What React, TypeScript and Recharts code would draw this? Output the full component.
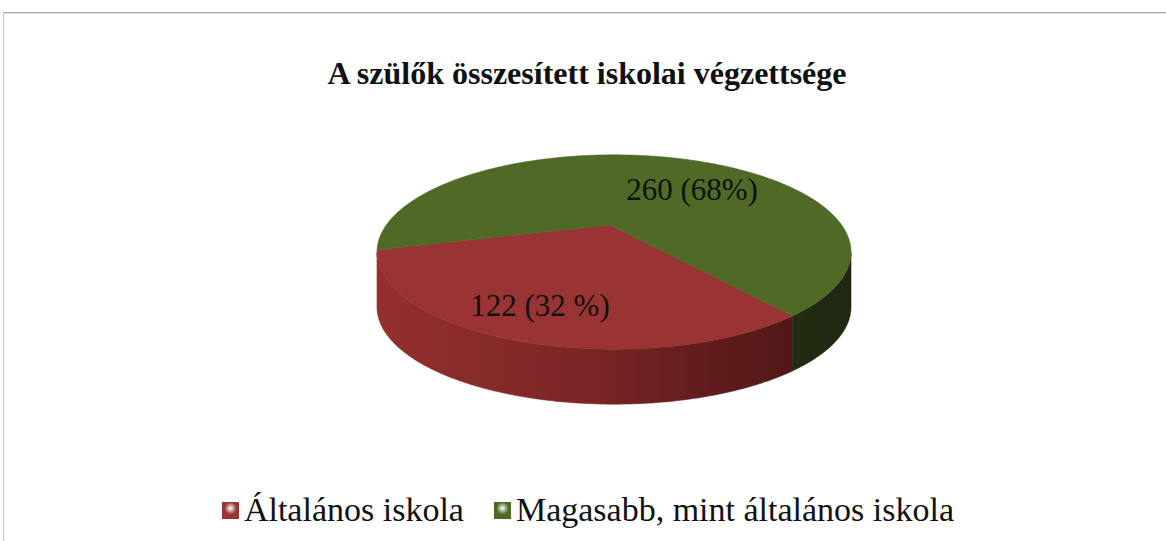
import React from "react";
import { PieChart, Pie, Cell, Legend } from "recharts";

const categories = ["Általános iskola", "Magasabb, mint általános iskola"];
const counts = [122, 260];
const sliceLabels = ["122 (32 %)", "260 (68%)"];
const colors = ["#9a3434", "#4f6a27"];

const data = categories.map((name, i) => ({ name, value: counts[i] }));

const W = 1166;
const H = 541;
const SERIF = '"Liberation Serif", "Times New Roman", serif';

// fake 3d look: apex of the slices sits a bit above the ellipse centre
const APEX_X = 610;
const APEX_Y = 225;
const RX = 237;
const TILT = 0.41;
const DEPTH = 55;
const CENTER_DX = 4;
const CENTER_DY = 27;

const sideStops: Record<string, string[]> = {
  "#9a3434": ["#942f2f", "#7a2525", "#5c1b1b", "#461414"],
  "#4f6a27": ["#3c4f1d", "#323f18", "#273214", "#1e2710"],
};

// where the ray from the apex at a given angle hits the top ellipse
function rimPoint(cx: number, cy: number, r: number, deg: number) {
  const ry = r * TILT;
  const ex = cx + CENTER_DX;
  const ey = cy + CENTER_DY;
  const a = (cx - ex) / r;
  const b = (cy - ey) / ry;
  const rad = (deg * Math.PI) / 180;
  const c = Math.cos(rad);
  const s = -Math.sin(rad);
  const p = a * c + b * s;
  const q = a * a + b * b - 1;
  const t = -p + Math.sqrt(p * p - q);
  const u = a + t * c;
  const v = b + t * s;
  return { x: ex + u * r, y: ey + v * ry, front: v >= 0 };
}

function Slice3D(props: any) {
  const { cx, cy, outerRadius, startAngle, endAngle, fill } = props;
  const steps = Math.max(2, Math.ceil(Math.abs(endAngle - startAngle) * 2));
  const pts = [];
  for (let i = 0; i <= steps; i++) {
    pts.push(rimPoint(cx, cy, outerRadius, startAngle + ((endAngle - startAngle) * i) / steps));
  }
  const top = `M${cx},${cy} ` + pts.map((p) => `L${p.x.toFixed(2)},${p.y.toFixed(2)}`).join(" ") + " Z";

  const runs: { x: number; y: number }[][] = [];
  let cur: { x: number; y: number }[] = [];
  pts.forEach((p) => {
    if (p.front) cur.push(p);
    else if (cur.length) {
      runs.push(cur);
      cur = [];
    }
  });
  if (cur.length) runs.push(cur);

  const id = fill.replace("#", "");
  const stops = sideStops[fill] || [fill, fill, fill, fill];
  const ex = cx + CENTER_DX;

  return (
    <g>
      <defs>
        <linearGradient id={`side-${id}`} gradientUnits="userSpaceOnUse" x1={ex - outerRadius} y1={0} x2={ex + outerRadius} y2={0}>
          <stop offset="0" stopColor={stops[0]} />
          <stop offset="0.45" stopColor={stops[1]} />
          <stop offset="0.75" stopColor={stops[2]} />
          <stop offset="1" stopColor={stops[3]} />
        </linearGradient>
      </defs>
      {runs.map((run, k) => {
        const d =
          run.map((p, i) => `${i ? "L" : "M"}${p.x.toFixed(2)},${p.y.toFixed(2)}`).join(" ") +
          " " +
          run
            .slice()
            .reverse()
            .map((p) => `L${p.x.toFixed(2)},${(p.y + DEPTH).toFixed(2)}`)
            .join(" ") +
          " Z";
        return <path key={k} d={d} fill={`url(#side-${id})`} stroke={`url(#side-${id})`} strokeWidth={0.6} />;
      })}
      <path d={top} fill={fill} stroke={fill} strokeWidth={0.6} />
    </g>
  );
}

// label anchors relative to the apex (Excel's best-fit placement)
const labelSpots = [
  { dx: -70, dy: 91 },
  { dx: 82, dy: -25 },
];

function renderLabel(props: any) {
  const { cx, cy } = props;
  const name = props.name ?? props.payload?.name;
  const i = categories.indexOf(name);
  if (i < 0) return null;
  return (
    <text
      x={cx + labelSpots[i].dx}
      y={cy + labelSpots[i].dy}
      textAnchor="middle"
      fill="#111"
      style={{ fontFamily: SERIF, fontSize: 31 }}
    >
      {sliceLabels[i]}
    </text>
  );
}

function LegendBox(props: any) {
  const items = (props.payload || [])
    .slice()
    .sort((a: any, b: any) => categories.indexOf(a.value) - categories.indexOf(b.value));
  return (
    <div style={{ display: "flex", justifyContent: "center", alignItems: "center", gap: 30, fontFamily: SERIF, fontSize: 34, lineHeight: "34px", color: "#111", paddingLeft: 10 }}>
      {items.map((it: any) => (
        <div key={it.value} style={{ display: "flex", alignItems: "center" }}>
          <span
            style={{
              display: "inline-block",
              width: 15,
              height: 15,
              marginRight: 5,
              background: `radial-gradient(circle at 50% 35%, #ffffff66 0, ${it.color} 50%, ${it.color} 100%)`,
              border: `1px solid ${it.color}`,
            }}
          />
          <span>{it.value}</span>
        </div>
      ))}
    </div>
  );
}

export default function App() {
  const redShare = counts[0] / (counts[0] + counts[1]);
  const start = -108 + redShare * 180;
  return (
    <div style={{ position: "fixed", left: 0, top: 0, width: W, height: H, background: "#fff", overflow: "hidden" }}>
      <div style={{ position: "absolute", left: 3, top: 12, right: 0, height: 1, background: "#a8a8a8" }} />
      <div style={{ position: "absolute", left: 3, top: 13, right: 0, height: 1, background: "#e4e4e4" }} />
      <div style={{ position: "absolute", left: 3, top: 12, bottom: 0, width: 1, background: "#c4c4c4" }} />
      <div
        style={{
          position: "absolute",
          left: 4,
          width: W,
          top: 57,
          textAlign: "center",
          fontFamily: SERIF,
          fontWeight: "bold",
          fontSize: 32,
          lineHeight: "32px",
          color: "#111",
        }}
      >
        A szülők összesített iskolai végzettsége
      </div>
      <PieChart width={W} height={H} margin={{ top: 0, right: 0, bottom: 0, left: 0 }}>
        <Pie
          data={data}
          dataKey="value"
          nameKey="name"
          cx={APEX_X}
          cy={APEX_Y}
          outerRadius={RX}
          startAngle={start}
          endAngle={start - 360}
          shape={Slice3D}
          label={renderLabel}
          labelLine={false}
          stroke="none"
          isAnimationActive={false}
        >
          {data.map((d, i) => (
            <Cell key={d.name} fill={colors[i]} />
          ))}
        </Pie>
        <Legend content={LegendBox} wrapperStyle={{ position: "absolute", top: 493, left: 0, width: W, bottom: "auto" }} />
      </PieChart>
    </div>
  );
}
